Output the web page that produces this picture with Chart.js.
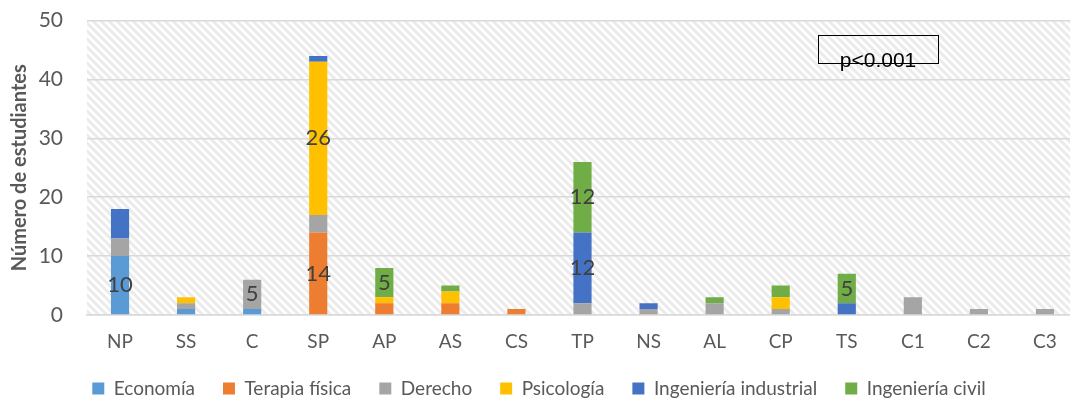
<!DOCTYPE html>
<html lang="es">
<head>
  <meta charset="UTF-8" />
  <title>Número de estudiantes</title>
  <script src="https://cdn.jsdelivr.net/npm/chart.js"></script>
  <style>
    html, body { margin: 0; padding: 0; background: #fff; overflow: hidden; }
    #wrap { width: 1070px; height: 401px; overflow: hidden; }
    #box { width: 1080px; height: 401px; position: relative; }
  </style>
</head>
<body>
  <div id="wrap"><div id="box"><canvas id="chart"></canvas></div></div>

  <script>
    // categorías y series
    const categorias = ['NP', 'SS', 'C', 'SP', 'AP', 'AS', 'CS', 'TP', 'NS', 'AL', 'CP', 'TS', 'C1', 'C2', 'C3'];
    const economia    = [10, 1, 1, 0, 0, 0, 0, 0, 0, 0, 0, 0, 0, 0, 0];
    const terapia     = [0, 0, 0, 14, 2, 2, 1, 0, 0, 0, 0, 0, 0, 0, 0];
    const derecho     = [3, 1, 5, 3, 0, 0, 0, 2, 1, 2, 1, 0, 3, 1, 1];
    const psicologia  = [0, 1, 0, 26, 1, 2, 0, 0, 0, 0, 2, 0, 0, 0, 0];
    const industrial  = [5, 0, 0, 1, 0, 0, 0, 12, 1, 0, 0, 2, 0, 0, 0];
    const civil       = [0, 0, 0, 0, 5, 1, 0, 12, 0, 1, 2, 5, 0, 0, 0];
    const yTicks      = [0, 10, 20, 30, 40, 50];
    // etiquetas visibles: [serie, categoría]
    const etiquetas = [[0, 'NP'], [2, 'C'], [1, 'SP'], [3, 'SP'], [5, 'AP'], [4, 'TP'], [5, 'TP'], [5, 'TS']];

    const FONT = 'Lato, "Open Sans", sans-serif';
    const GRIS = '#595959';

    // fondo rayado
    function hatch() {
      const c = document.createElement('canvas');
      c.width = 8; c.height = 8;
      const g = c.getContext('2d');
      g.fillStyle = '#ffffff';
      g.fillRect(0, 0, 8, 8);
      g.strokeStyle = '#ebebeb';
      g.lineWidth = 3;
      g.beginPath();
      g.moveTo(-2, -2); g.lineTo(10, 10);
      g.moveTo(-10, -2); g.lineTo(2, 10);
      g.moveTo(6, -2); g.lineTo(18, 10);
      g.stroke();
      return g.createPattern(c, 'repeat');
    }

    const fondo = {
      id: 'fondo',
      beforeDraw(chart) {
        const { ctx, chartArea: a } = chart;
        ctx.save();
        ctx.fillStyle = hatch();
        ctx.fillRect(a.left, a.top, a.right - a.left, a.bottom - a.top);
        ctx.restore();
      }
    };

    // altura fija de la leyenda
    const leyendaAlto = {
      id: 'leyendaAlto',
      beforeUpdate(chart) {
        const lg = chart.legend;
        if (lg && !lg._fijo) {
          const fit = lg.fit;
          lg.fit = function () { fit.call(this); this.height = 50; };
          lg._fijo = true;
        }
      }
    };

    const valores = {
      id: 'valores',
      afterDatasetsDraw(chart) {
        const { ctx } = chart;
        ctx.save();
        ctx.font = '22px ' + FONT;
        ctx.fillStyle = '#404040';
        ctx.textAlign = 'center';
        ctx.textBaseline = 'middle';
        etiquetas.forEach(([d, cat]) => {
          const i = categorias.indexOf(cat);
          const el = chart.getDatasetMeta(d).data[i];
          const v = chart.data.datasets[d].data[i];
          ctx.fillText(String(v), el.x, (el.y + el.base) / 2);
        });
        ctx.restore();
      }
    };

    const nota = {
      id: 'nota',
      afterDraw(chart) {
        const { ctx } = chart;
        ctx.save();
        ctx.strokeStyle = '#000';
        ctx.lineWidth = 1;
        ctx.strokeRect(818.5, 35.5, 120, 28);
        ctx.font = '21px "Liberation Sans", Arial, sans-serif';
        ctx.fillStyle = '#000';
        ctx.textAlign = 'center';
        ctx.textBaseline = 'alphabetic';
        ctx.fillText('p<0.001', 878, 67);
        ctx.restore();
      }
    };

    const mk = (label, data, color) => ({
      label, data, backgroundColor: color, borderWidth: 0,
      barPercentage: 0.55, categoryPercentage: 0.5
    });

    new Chart(document.getElementById('chart'), {
      type: 'bar',
      data: {
        labels: categorias,
        datasets: [
          mk('Economía', economia, '#5B9BD5'),
          mk('Terapia física', terapia, '#ED7D31'),
          mk('Derecho', derecho, '#A5A5A5'),
          mk('Psicología', psicologia, '#FFC000'),
          mk('Ingeniería industrial', industrial, '#4472C4'),
          mk('Ingeniería civil', civil, '#70AD47')
        ]
      },
      options: {
        responsive: true,
        maintainAspectRatio: false,
        animation: false,
        layout: { padding: { top: 0, right: 2, left: 0, bottom: 0 } },
        plugins: {
          legend: {
            position: 'bottom',
            labels: {
              color: GRIS,
              font: { family: FONT, size: 19 },
              boxWidth: 12, boxHeight: 12, padding: 28
            }
          },
          tooltip: { enabled: false }
        },
        scales: {
          x: {
            stacked: true,
            afterFit(s) { s.height = 36; },
            grid: { display: false, drawTicks: false },
            border: { color: '#d9d9d9', width: 1.5 },
            ticks: { color: GRIS, font: { family: FONT, size: 19 }, padding: 15 }
          },
          y: {
            stacked: true,
            min: 0, max: 50,
            afterBuildTicks(s) { s.ticks = yTicks.map(v => ({ value: v })); },
            afterFit(s) { s.width = 87; },
            grid: { color: '#d9d9d9', lineWidth: 1.5, drawTicks: true, tickLength: 16, tickColor: 'rgba(0,0,0,0)' },
            border: { display: false },
            ticks: { color: GRIS, font: { family: FONT, size: 21 }, padding: 8 },
            title: {
              display: true, text: 'Número de estudiantes', color: GRIS,
              font: { family: FONT, size: 20, weight: 'bold' }, padding: { top: 8, bottom: 0 }
            }
          }
        }
      },
      plugins: [fondo, leyendaAlto, valores, nota]
    });
  </script>
</body>
</html>
